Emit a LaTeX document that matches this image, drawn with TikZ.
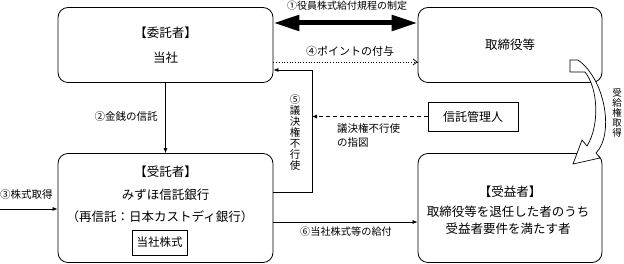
\documentclass[tikz,border=0pt]{standalone}
\usepackage{fontspec}
\newfontfamily\jp{Noto Sans CJK JP}
\usetikzlibrary{arrows.meta}
\begin{document}
\begin{tikzpicture}[x=1pt,y=-1pt,
  rbox/.style={draw,rounded corners=10pt,line width=0.8pt,inner sep=0pt},
  sbox/.style={draw,line width=0.8pt,inner sep=0pt},
  btxt/.style={font=\jp\fontsize{12.5}{14}\selectfont,inner sep=0pt},
  lbl/.style={font=\jp\fontsize{10.5}{12}\selectfont,inner sep=0pt},
  conn/.style={line width=0.7pt,-{Latex[length=5pt,width=4pt]}},
  bigarrow/.style={line width=5pt,{Triangle[length=26pt,width=15pt]}-{Triangle[length=26pt,width=15pt]}},
  dotarrow/.style={line width=0.7pt,dotted,-{Straight Barb[length=4pt,width=6pt]}},
  dasharrow/.style={line width=0.7pt,dash pattern=on 4pt off 3pt,-{Latex[length=5pt,width=4pt]}},
  vtxt/.style={font=\jp\fontsize{10.5}{11}\selectfont,align=center,inner sep=0pt}
]
\useasboundingbox (0,0) rectangle (624,264);

% boxes
\node[rbox,minimum width=215pt,minimum height=75pt] (itaku) at (165.5,45) {};
\node[rbox,minimum width=184pt,minimum height=75pt] (tori) at (510,45) {};
\node[rbox,minimum width=215pt,minimum height=109pt] (jutaku) at (165.5,208) {};
\node[rbox,minimum width=184pt,minimum height=109pt] (jueki) at (510,208) {};
\node[sbox,minimum width=90pt,minimum height=29pt,btxt,font=\jp\fontsize{12}{14}\selectfont] (kanri) at (473,116.5) {信託管理人};
\node[sbox,minimum width=55pt,minimum height=25pt,btxt,font=\jp\fontsize{11.5}{14}\selectfont] (kabu) at (159.5,242.5) {当社株式};

% box texts
\node[btxt] (t1) at (165.5,33) {【委託者】};
\node[btxt] (t2) at (165.5,58) {当社};
\node[btxt] (t3) at (510,45) {取締役等};
\node[btxt] (t4) at (165.5,172) {【受託者】};
\node[btxt] (t5) at (165.5,195) {みずほ信託銀行};
\node[btxt] (t6) at (160,217) {（再信託：日本カストディ銀行）};
\node[btxt] (t7) at (510,192) {【受益者】};
\node[btxt] (t8) at (508,212) {取締役等を退任した者のうち};
\node[btxt] (t9) at (508,229) {受益者要件を満たす者};

% coordinates
\coordinate (y1) at (0,23);
\coordinate (y4) at (0,62);
\coordinate (c5t) at (312,70);
\coordinate (y5b) at (0,192);
\coordinate (s3) at (0,209);
\coordinate (y6) at (0,222);

% connectors
\draw[bigarrow] (itaku.east |- y1) -- (tori.west |- y1);
\draw[dotarrow] (itaku.east |- y4) -- (tori.west |- y4);
\draw[conn] (jutaku.east |- y5b) -| (c5t) -- (itaku.east |- c5t);
\draw[dasharrow] (kanri.west) -- (kanri.west -| c5t);
\draw[conn] (itaku.south) -- (jutaku.north);
\draw[conn] (s3) -- (jutaku.west |- s3);
\draw[conn] (jutaku.east |- y6) -- (jueki.west |- y6);

% curved hollow arrow
\draw[fill=white,line width=0.7pt,line join=miter] (570,60) -- (578,60)
  .. controls (606,80) and (614,135) .. (596,153)
  -- (600,158) -- (573,164) -- (582,140) -- (587,146)
  .. controls (600,125) and (598,88) .. (585,72)
  -- (570,72) -- cycle;

% labels
\node[lbl,font=\jp\fontsize{10}{12}\selectfont] (l1) at (347,6) {①役員株式給付規程の制定};
\node[lbl,font=\jp\fontsize{11}{12}\selectfont] (l4) at (350,51) {④ポイントの付与};
\node[lbl] (l2) at (126,117) {②金銭の信託};
\node[lbl,anchor=west] (l3) at (0,195) {③株式取得};
\node[lbl,font=\jp\fontsize{10.2}{12}\selectfont] (l6) at (346,232) {⑥当社株式等の給付};
\node[lbl,anchor=north west,align=left,font=\jp\fontsize{10.5}{14}\selectfont] (lsz) at (337,123) {議決権不行使\\の指図};
\node[vtxt] (l5) at (295,132.5) {⑤\\議\\決\\権\\不\\行\\使};
\node[vtxt,font=\jp\fontsize{9.5}{10}\selectfont] (lr) at (617,113) {受\\給\\権\\取\\得};
\end{tikzpicture}
\end{document}
